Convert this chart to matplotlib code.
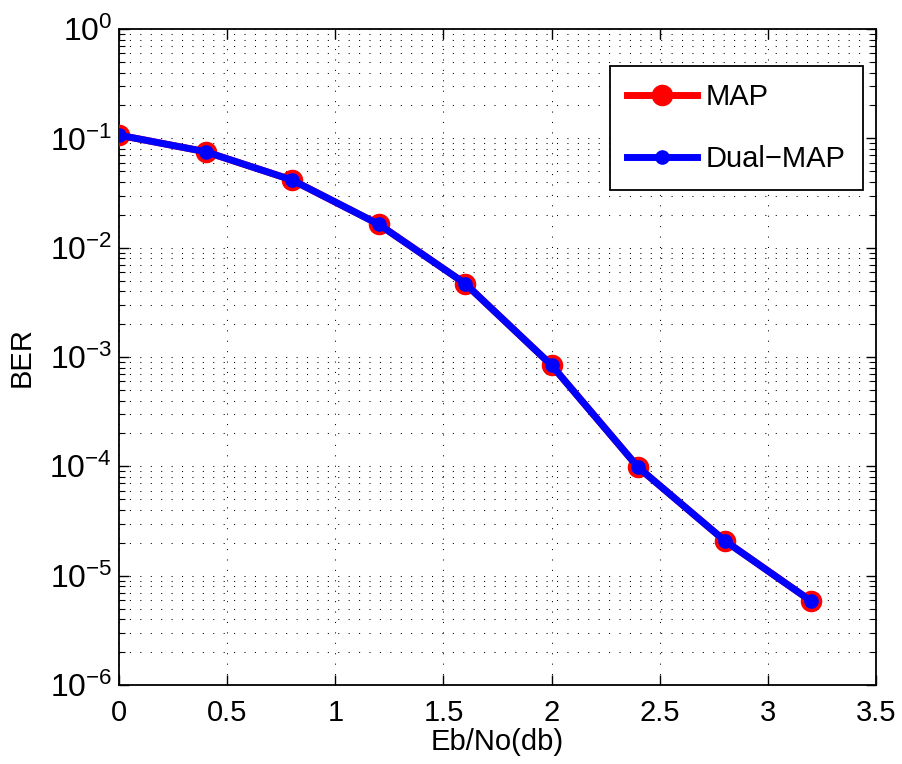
import matplotlib
matplotlib.use("Agg")
import matplotlib.pyplot as plt
import matplotlib.ticker as ticker
import numpy as np

plt.rcParams["font.family"] = ["Liberation Sans", "DejaVu Sans"]
plt.rcParams["mathtext.fontset"] = "custom"
plt.rcParams["mathtext.rm"] = "Liberation Sans"
plt.rcParams["mathtext.it"] = "Liberation Sans:italic"

# Eb/No in dB and bit error rates
ebno = [0.0, 0.4, 0.8, 1.2, 1.6, 2.0, 2.4, 2.8, 3.2]
ber_map = [0.107, 0.0755, 0.0416, 0.0164, 0.0047, 8.4e-4, 9.8e-5, 2.09e-5, 5.85e-6]
ber_dual = [0.107, 0.0755, 0.0416, 0.0164, 0.0047, 8.4e-4, 9.8e-5, 2.09e-5, 5.85e-6]

fig = plt.figure(figsize=(9.03, 7.64), dpi=100)
ax = fig.add_axes([0.1318, 0.1034, 0.8384, 0.8586])

ax.semilogy(ebno, ber_map, color="red", linewidth=5, marker="o", markersize=14.5,
            markerfacecolor="red", markeredgecolor="red", label="MAP", zorder=3)
ax.semilogy(ebno, ber_dual, color="blue", linewidth=5, marker="o", markersize=9.5,
            markerfacecolor="blue", markeredgecolor="blue", label="Dual\u2212MAP", zorder=4)

ax.set_xlim(0, 3.5)
ax.set_ylim(1e-6, 1)
ax.xaxis.set_major_locator(ticker.MultipleLocator(0.5))
ax.xaxis.set_major_formatter(ticker.FuncFormatter(lambda v, _: f"{v:g}"))
ax.yaxis.set_major_locator(ticker.LogLocator(base=10, numticks=10))
ax.yaxis.set_minor_locator(ticker.LogLocator(base=10, subs=np.arange(2, 10), numticks=10))
ax.yaxis.set_minor_formatter(ticker.NullFormatter())

dots = (0, (1, 9))
ax.grid(True, which="major", axis="both", color="black", linestyle=dots, linewidth=0.75)
ax.grid(True, which="minor", axis="y", color="black", linestyle=dots, linewidth=0.75)

ax.tick_params(which="both", direction="in", top=True, right=True)
ax.tick_params(axis="x", pad=10, labelsize=21)
ax.tick_params(axis="y", pad=5, labelsize=23)
ax.tick_params(which="major", length=7, width=1)
ax.tick_params(which="minor", length=4, width=0.8)
for s in ax.spines.values():
    s.set_linewidth(1.3)

ax.set_xlabel("Eb/No(db)", fontsize=21, labelpad=1)
ax.set_ylabel("BER", fontsize=21, labelpad=10)

leg = ax.legend(loc="upper right", bbox_to_anchor=(0.983, 0.944), fontsize=21,
                fancybox=False, framealpha=1, edgecolor="black", handlelength=2.4,
                handletextpad=0.3, borderpad=0.6, borderaxespad=0, labelspacing=1.15)
leg.get_frame().set_linewidth(1.3)

fig.savefig("out.png", dpi=100, facecolor="white")
